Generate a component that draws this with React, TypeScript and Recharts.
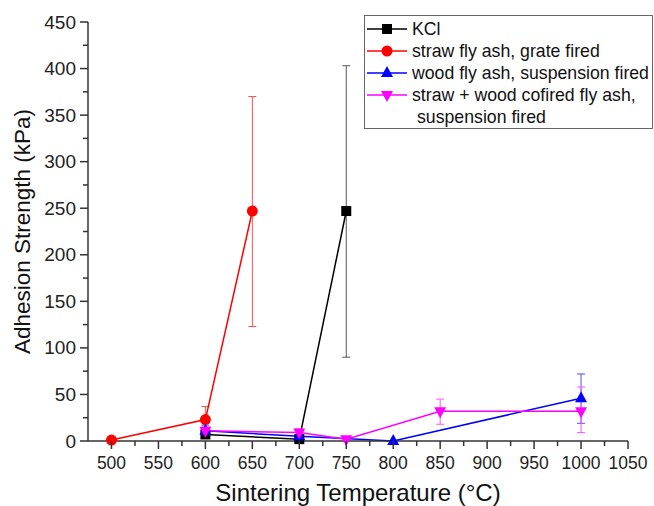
import React from "react";
import { LineChart, Line, XAxis, YAxis, ErrorBar } from "recharts";

// sintering temperature (°C) and adhesion strength (kPa)
const kclTemp = [600, 700, 750];
const kclVal = [7, 2, 247];
const kclErrLow = [null, null, 157];
const kclErrHigh = [null, null, 156];

const strawTemp = [500, 600, 650];
const strawVal = [1, 23, 247];
const strawErrLow = [null, 8, 124];
const strawErrHigh = [null, 14, 123];

const woodTemp = [600, 700, 800, 1000];
const woodVal = [11, 5, 0, 46];
const woodErrLow = [4, null, null, 27];
const woodErrHigh = [6, null, null, 26];

const cofTemp = [600, 700, 750, 850, 1000];
const cofVal = [11, 9, 2, 32, 32];
const cofErrLow = [null, 4, null, 14, 23];
const cofErrHigh = [null, 4, null, 13, 26];

const xTicks = [500, 525, 550, 575, 600, 625, 650, 675, 700, 725, 750, 775, 800, 825, 850, 875, 900, 925, 950, 975, 1000, 1025, 1050];
const yTicks = [0, 25, 50, 75, 100, 125, 150, 175, 200, 225, 250, 275, 300, 325, 350, 375, 400, 425, 450];

const FONT = "'Liberation Sans', Arial, sans-serif";
const AXIS = "#333";

function rows(temp: number[], val: number[], lo: (number | null)[], hi: (number | null)[]) {
  return temp.map((t, i) => ({
    t,
    v: val[i],
    err: lo[i] != null ? [lo[i], hi[i]] : undefined,
  }));
}

const kclData = rows(kclTemp, kclVal, kclErrLow, kclErrHigh);
const strawData = rows(strawTemp, strawVal, strawErrLow, strawErrHigh);
const woodData = rows(woodTemp, woodVal, woodErrLow, woodErrHigh);
const cofData = rows(cofTemp, cofVal, cofErrLow, cofErrHigh);

type Shape = "square" | "circle" | "up" | "down";

function Marker({ cx, cy, shape, color }: { cx: number; cy: number; shape: Shape; color: string }) {
  if (cx == null || cy == null) return null;
  if (shape === "square")
    return <rect x={cx - 5} y={cy - 5} width={10} height={10} fill={color} />;
  if (shape === "circle") return <circle cx={cx} cy={cy} r={5.5} fill={color} />;
  if (shape === "up")
    return <polygon points={`${cx},${cy - 7} ${cx - 6},${cy + 4} ${cx + 6},${cy + 4}`} fill={color} />;
  return <polygon points={`${cx},${cy + 7} ${cx - 6},${cy - 4} ${cx + 6},${cy - 4}`} fill={color} />;
}

const dotFor = (shape: Shape, color: string) => (p: any) => (
  <Marker key={`${shape}-${p.index}`} cx={p.cx} cy={p.cy} shape={shape} color={color} />
);

const XTick = (p: any) => {
  const v = p.payload.value;
  const major = v % 50 === 0;
  return (
    <g>
      <line x1={p.x} x2={p.x} y1={p.y} y2={p.y + (major ? 8 : 5)} stroke={AXIS} strokeWidth={1.5} />
      {major && (
        <text x={p.x} y={p.y + 28} textAnchor="middle" fontSize={17.5} fontFamily={FONT} fill="#222">
          {v}
        </text>
      )}
    </g>
  );
};

const YTick = (p: any) => {
  const v = p.payload.value;
  const major = v % 50 === 0;
  return (
    <g>
      <line x1={p.x} x2={p.x - (major ? 8 : 5)} y1={p.y} y2={p.y} stroke={AXIS} strokeWidth={1.5} />
      {major && (
        <text x={p.x - 12} y={p.y + 6.5} textAnchor="end" fontSize={19} fontFamily={FONT} fill="#222">
          {v}
        </text>
      )}
    </g>
  );
};

const legendItems: { label: string[]; color: string; shape: Shape }[] = [
  { label: ["KCl"], color: "#000000", shape: "square" },
  { label: ["straw fly ash, grate fired"], color: "#ff0000", shape: "circle" },
  { label: ["wood fly ash, suspension fired"], color: "#0000ff", shape: "up" },
  { label: ["straw + wood cofired fly ash,", "suspension fired"], color: "#ff00ff", shape: "down" },
];

function LegendBox() {
  return (
    <div
      style={{
        position: "absolute",
        left: 364,
        top: 15,
        width: 289,
        height: 114,
        border: "1px solid #666",
        background: "#fff",
        fontFamily: FONT,
        fontSize: 17.7,
        color: "#111",
        boxSizing: "border-box",
        paddingTop: 2,
      }}
    >
      {legendItems.map((it) => (
        <div key={it.color}>
          {it.label.map((line, j) => (
            <div key={j} style={{ display: "flex", alignItems: "center", height: 22 }}>
              <svg width={47} height={22} style={{ flex: "none" }}>
                {j === 0 && (
                  <>
                    <line x1={2} x2={42} y1={11} y2={11} stroke={it.color} strokeWidth={1.5} />
                    <Marker cx={22} cy={11} shape={it.shape} color={it.color} />
                  </>
                )}
              </svg>
              <span style={{ marginLeft: j === 0 ? 0 : 5, whiteSpace: "nowrap" }}>{line}</span>
            </div>
          ))}
        </div>
      ))}
    </div>
  );
}

export default function App() {
  return (
    <div style={{ position: "absolute", left: 0, top: 0, width: 654, height: 506, background: "#fff" }}>
      <LineChart width={654} height={506} margin={{ top: 22, right: 26, left: 0, bottom: 0 }}>
        <XAxis
          type="number"
          dataKey="t"
          domain={[475, 1050]}
          ticks={xTicks}
          interval={0}
          allowDataOverflow
          height={65}
          tickSize={0}
          tickMargin={0}
          tickLine={false}
          tick={<XTick />}
          axisLine={{ stroke: AXIS, strokeWidth: 1.5 }}
          label={{
            value: "Sintering Temperature (°C)",
            position: "insideBottom",
            offset: 5,
            style: { fontSize: 24, fontFamily: FONT, fill: "#111" },
          }}
        />
        <YAxis
          type="number"
          domain={[0, 450]}
          ticks={yTicks}
          interval={0}
          width={88}
          tickSize={0}
          tickMargin={0}
          tickLine={false}
          tick={<YTick />}
          axisLine={{ stroke: AXIS, strokeWidth: 1.5 }}
          label={{
            value: "Adhesion Strength (kPa)",
            angle: -90,
            position: "insideLeft",
            offset: 22,
            style: { fontSize: 22.5, fontFamily: FONT, fill: "#111", textAnchor: "middle" },
          }}
        />
        <Line
          data={kclData}
          dataKey="v"
          stroke="#000000"
          strokeWidth={1.5}
          dot={dotFor("square", "#000000")}
          isAnimationActive={false}
        >
          <ErrorBar dataKey="err" direction="y" width={4} stroke="#555" strokeWidth={1} />
        </Line>
        <Line
          data={strawData}
          dataKey="v"
          stroke="#ff0000"
          strokeWidth={1.5}
          dot={dotFor("circle", "#ff0000")}
          isAnimationActive={false}
        >
          <ErrorBar dataKey="err" direction="y" width={4} stroke="#ff5050" strokeWidth={1} />
        </Line>
        <Line
          data={woodData}
          dataKey="v"
          stroke="#0000ff"
          strokeWidth={1.5}
          dot={dotFor("up", "#0000ff")}
          isAnimationActive={false}
        >
          <ErrorBar dataKey="err" direction="y" width={4} stroke="#5050ff" strokeWidth={1} />
        </Line>
        <Line
          data={cofData}
          dataKey="v"
          stroke="#ff00ff"
          strokeWidth={1.5}
          dot={dotFor("down", "#ff00ff")}
          isAnimationActive={false}
        >
          <ErrorBar dataKey="err" direction="y" width={4} stroke="#ff50ff" strokeWidth={1} />
        </Line>
      </LineChart>
      <LegendBox />
    </div>
  );
}
